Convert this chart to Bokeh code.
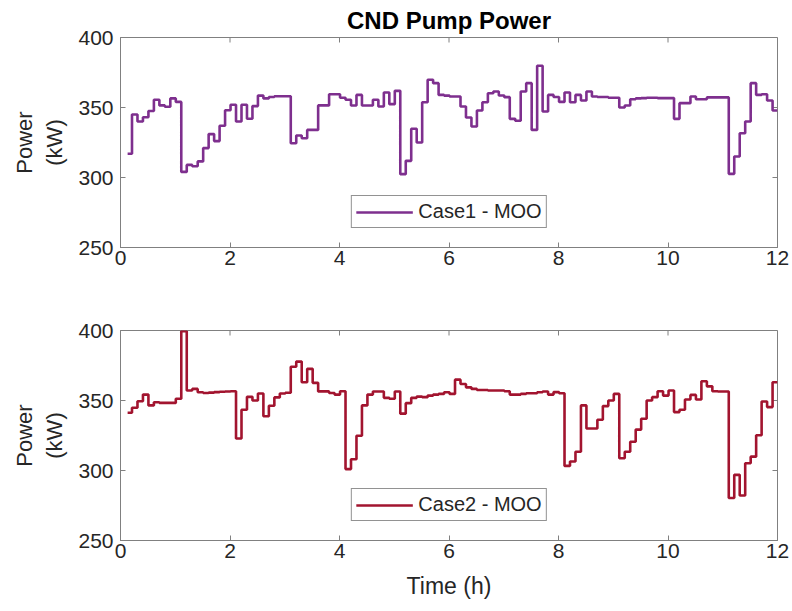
import numpy as np
from bokeh.plotting import figure
from bokeh.layouts import column
from bokeh.models import Range1d, FixedTicker, Legend, LegendItem, Title
from bokeh.embed import file_html
from bokeh.resources import INLINE

# time grid: first sample, then 0.1 h steps
t_first = 0.13
t_edges_start = 0.21
dt = 0.1
t_end = 12.0

case1_moo = [317, 345, 340, 343, 347.5, 355.5, 351.5, 350.5, 356.5, 354,
             304, 309, 308, 311.5, 321, 331, 326, 337, 348, 352,
             340, 352, 342, 351, 358.5, 356.5, 357.5, 358, 358, 358,
             324.5, 330, 328, 334, 334, 351.5, 351.5, 359.5, 359.5, 357,
             355.5, 351.4, 359, 351.4, 351.4, 355.5, 350.7, 360.7, 352.4, 361.9,
             302.4, 311.9, 334.8, 325, 353.8, 369.8, 367.4, 359, 358.5, 357.9,
             357.9, 350.7, 342.9, 336.4, 347.9, 353.8, 360.2, 361.4, 358.6, 357.4,
             341.9, 340.5, 361.4, 367.4, 334, 379.8, 347.1, 359, 357.5, 354,
             360.7, 353.8, 359, 355, 361.4, 357.9, 357.5, 357.5, 357, 357,
             350, 351.4, 355.9, 356.5, 356.7, 357, 357, 356.7, 356.7, 356.7,
             341.9, 353.1, 353.1, 357.9, 355.9, 355.9, 357.2, 357.2, 357.2, 357.2,
             302.6, 315, 331.6, 340, 367.4, 359, 359.5, 355, 347.9]

case2_moo = [341.3, 344.8, 349.5, 354.2, 346.5, 348.8, 348.3, 348.3, 348.3, 351.2,
             399.5, 357.1, 358.3, 355.9, 355.4, 355.6, 356, 356.2, 356.4, 356.6,
             322.9, 343.4, 352.6, 350, 355, 338.8, 346.3, 352.2, 355, 355.5,
             374.1, 377.8, 363, 372.6, 362.6, 356.5, 356.5, 355.4, 354.2, 356.6,
             301, 308, 324.8, 346.5, 354.2, 356.4, 356.4, 351.9, 351.2, 356.4,
             340.6, 348.1, 351.9, 352.8, 352.4, 353.5, 354.2, 354.7, 355.9, 354.7,
             364.9, 361.8, 359.4, 358.3, 357.5, 357.5, 357.1, 357.1, 357.1, 356.6,
             354.2, 354.2, 354.7, 355.2, 355.2, 355.9, 356.4, 354.2, 356, 355.2,
             303.3, 306.4, 313.4, 346.5, 330, 330, 336.3, 346, 350, 354.7,
             308.7, 313.4, 320.5, 329.2, 337, 350, 352.4, 356.6, 353.5, 357.1,
             341.7, 343.4, 350.7, 354, 350.7, 363.7, 360.1, 356.6, 356.4, 356.4,
             280.4, 296.9, 282.1, 305.2, 309.9, 325.2, 349.3, 345.3, 363]

x_ticks = [0, 2, 4, 6, 8, 10, 12]
y_ticks = [250, 300, 350, 400]
series_names = ["Case1 - MOO", "Case2 - MOO"]
series_colors = ["#7E2F8E", "#A2142F"]

FONT = "Liberation Sans"
AX_COL = "#262626"
FRAME_COL = "#808080"


def make_time(n):
    xs = [t_first] + [t_edges_start + dt * k for k in range(n - 1)]
    xs.append(t_end)
    return xs


def style_axis(ax):
    ax.axis_line_color = FRAME_COL
    ax.major_tick_line_color = FRAME_COL
    ax.major_tick_in = 5
    ax.major_tick_out = 0
    ax.minor_tick_line_color = None
    ax.major_label_text_font = FONT
    ax.major_label_text_color = AX_COL
    ax.major_label_text_font_size = "21px"
    ax.axis_label_text_font = FONT
    ax.axis_label_text_font_style = "normal"
    ax.axis_label_text_color = AX_COL
    ax.axis_label_text_font_size = "22px"


def make_panel(values, name, color, top_border, bottom_border, xlabel=None, title=None):
    p = figure(output_backend="svg", toolbar_location=None,
               frame_width=657, frame_height=210,
               min_border_left=120, min_border_right=15,
               min_border_top=top_border, min_border_bottom=bottom_border,
               x_range=Range1d(0, 12), y_range=Range1d(250, 400),
               background_fill_color="white", border_fill_color="white")
    p.grid.visible = False
    p.outline_line_color = FRAME_COL
    p.xaxis.ticker = FixedTicker(ticks=x_ticks)
    p.yaxis.ticker = FixedTicker(ticks=y_ticks)
    for ax in p.xaxis + p.yaxis:
        style_axis(ax)
    p.xaxis.major_label_standoff = 3
    p.yaxis.major_label_standoff = 7
    p.yaxis.axis_label = "Power\n(kW)"
    p.yaxis.axis_label_standoff = 8
    if xlabel:
        p.xaxis.axis_label = xlabel
        p.xaxis.axis_label_text_font_size = "23px"
        p.xaxis.axis_label_standoff = 12

    # inward ticks on the top and right edges of the box
    p.ray(x=x_ticks, y=[400] * len(x_ticks), length=5, length_units="screen",
          angle=-np.pi / 2, line_color=FRAME_COL, line_width=1)
    p.ray(x=[12] * len(y_ticks), y=y_ticks, length=5, length_units="screen",
          angle=np.pi, line_color=FRAME_COL, line_width=1)

    xs = make_time(len(values))
    ys = list(values) + [values[-1]]
    r = p.step(xs, ys, mode="after", line_color=color, line_width=2.6)
    leg = Legend(items=[LegendItem(label=name, renderers=[r])],
                 location="bottom_center", orientation="horizontal",
                 label_text_font=FONT, label_text_font_size="20px",
                 label_text_color=AX_COL, glyph_width=57, glyph_height=20,
                 border_line_color=AX_COL, border_line_width=1,
                 padding=4, margin=19, spacing=0, label_standoff=6,
                 background_fill_color="white", background_fill_alpha=1)
    p.add_layout(leg, "center")
    if title:
        p.title = Title(text=title, align="center", text_font=FONT,
                        text_font_size="24px", text_font_style="bold",
                        text_color="black", standoff=7)
    return p


p1 = make_panel(case1_moo, series_names[0], series_colors[0], 37, 43,
                title="CND Pump Power")
p2 = make_panel(case2_moo, series_names[1], series_colors[1], 40, 71,
                xlabel="Time (h)")

layout = column(p1, p2, spacing=0)
open("out.html", "w").write(file_html(layout, INLINE))
